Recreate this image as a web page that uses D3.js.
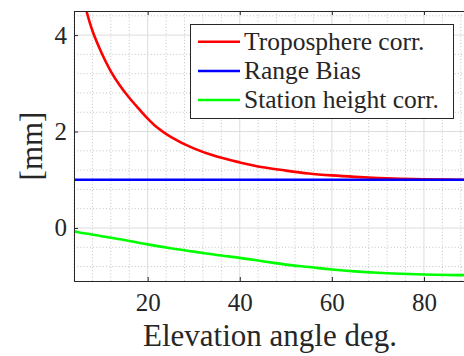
<!DOCTYPE html>
<html>
<head>
<meta charset="utf-8">
<script src="https://cdn.jsdelivr.net/npm/d3@7"></script>
<style>
html,body{margin:0;padding:0;background:#fff;}
</style>
</head>
<body>
<svg id="chart" width="464" height="356"></svg>
<script>
// ---- data ----
const elevationTropo = [6.7, 8, 10, 12, 14, 16, 18, 20, 22, 25, 30, 35, 40, 45, 50, 55, 60, 65, 70, 75, 80, 85, 90];
const troposphereCorr = [4.5, 4.09, 3.63, 3.25, 2.95, 2.70, 2.48, 2.27, 2.09, 1.89, 1.65, 1.48, 1.36, 1.26, 1.19, 1.13, 1.09, 1.06, 1.037, 1.02, 1.009, 1.002, 1.0];
const elevationBias = [4, 90];
const rangeBias = [1.0, 1.0];
const elevationStation = [4, 5, 10, 15, 20, 25, 30, 35, 40, 45, 50, 55, 60, 65, 70, 75, 80, 85, 90];
const stationHeightCorr = [-0.07, -0.09, -0.17, -0.25, -0.34, -0.42, -0.49, -0.56, -0.62, -0.69, -0.76, -0.81, -0.86, -0.90, -0.93, -0.95, -0.965, -0.975, -0.98];
const xTicks = [20, 40, 60, 80];
const yTicks = [0, 2, 4];
const xMinorTicks = d3.range(4, 91, 4);
const yMinorTicks = d3.range(-0.8, 4.6, 0.4).map(v => +v.toFixed(1));
const seriesNames = ["Troposphere corr.", "Range Bias", "Station height corr."];
const seriesColors = ["#ff0000", "#0000ff", "#00ff00"];
const xLabel = "Elevation angle deg.";
const yLabel = "[mm]";

// ---- layout ----
const FONT = "'Liberation Serif', 'Times New Roman', serif";
const svg = d3.select("#chart");
const L = 74, R = 470, T = 11, B = 281;
const x = d3.scaleLinear().domain([4, 90]).range([L, R]);
const y = d3.scaleLinear().domain([-1.1, 4.5]).range([B, T]);
const axisColor = "#262626";

svg.append("defs").append("clipPath").attr("id", "clip")
  .append("rect").attr("x", L).attr("y", T).attr("width", R - L).attr("height", B - T);

const grid = svg.append("g");
grid.selectAll(".vminor").data(xMinorTicks.filter(v => !xTicks.includes(v))).join("line")
  .attr("x1", d => x(d)).attr("x2", d => x(d)).attr("y1", T).attr("y2", B)
  .attr("stroke", "#c4c4c4").attr("stroke-width", 1).attr("stroke-dasharray", "1,2.2");
grid.selectAll(".hminor").data(yMinorTicks.filter(v => !yTicks.includes(v))).join("line")
  .attr("x1", L).attr("x2", R).attr("y1", d => y(d)).attr("y2", d => y(d))
  .attr("stroke", "#c4c4c4").attr("stroke-width", 1).attr("stroke-dasharray", "1,2.2");
grid.selectAll(".vmajor").data(xTicks).join("line")
  .attr("x1", d => x(d)).attr("x2", d => x(d)).attr("y1", T).attr("y2", B)
  .attr("stroke", "#dcdcdc").attr("stroke-width", 1);
grid.selectAll(".hmajor").data(yTicks).join("line")
  .attr("x1", L).attr("x2", R).attr("y1", d => y(d)).attr("y2", d => y(d))
  .attr("stroke", "#dcdcdc").attr("stroke-width", 1);

// ---- series ----
const plot = svg.append("g").attr("clip-path", "url(#clip)");
const series = [
  elevationTropo.map((e, i) => [e, troposphereCorr[i]]),
  elevationBias.map((e, i) => [e, rangeBias[i]]),
  elevationStation.map((e, i) => [e, stationHeightCorr[i]])
];
const line = d3.line().x(d => x(d[0])).y(d => y(d[1])).curve(d3.curveCatmullRom.alpha(0.5));
plot.selectAll("path.s").data(series).join("path")
  .attr("fill", "none").attr("stroke", (d, i) => seriesColors[i])
  .attr("stroke-width", 2.6).attr("d", line);

// ---- axes ----
const tickLen = 4;
const xAxisB = d3.axisBottom(x).tickValues(xTicks).tickSize(-tickLen).tickPadding(12).tickFormat(d3.format("d"));
const gx = svg.append("g").attr("transform", `translate(0,${B})`).call(xAxisB);
const xAxisT = d3.axisTop(x).tickValues(xTicks).tickSize(-tickLen).tickFormat("");
const gxt = svg.append("g").attr("transform", `translate(0,${T})`).call(xAxisT);
const yAxisL = d3.axisLeft(y).tickValues(yTicks).tickSize(-tickLen).tickPadding(7).tickFormat(d3.format("d"));
const gy = svg.append("g").attr("transform", `translate(${L},0)`).call(yAxisL);
[gx, gxt, gy].forEach(g => {
  g.attr("font-family", null).attr("font-size", null);
  g.select(".domain").attr("stroke", axisColor).attr("stroke-width", 1);
  g.selectAll(".tick line").attr("stroke", axisColor);
  g.selectAll(".tick text").style("font-family", FONT).style("font-size", "25px").attr("fill", axisColor);
});
gx.selectAll(".tick text").attr("dy", "0.72em");

// axis labels
svg.append("text").attr("x", (L + R) / 2 - 2).attr("y", 346)
  .attr("text-anchor", "middle").style("font-family", FONT).style("font-size", "31px")
  .attr("fill", axisColor).text(xLabel);
svg.append("text").attr("transform", `translate(42,${(T + B) / 2}) rotate(-90)`)
  .attr("text-anchor", "middle").style("font-family", FONT).style("font-size", "31px")
  .attr("fill", axisColor).text(yLabel);

// ---- legend ----
const lg = svg.append("g");
lg.append("rect").attr("x", 190.5).attr("y", 24.5).attr("width", 263).attr("height", 94)
  .attr("fill", "#fff").attr("stroke", axisColor).attr("stroke-width", 1);
const rowY = [41.7, 71, 100];
seriesNames.forEach((name, i) => {
  lg.append("line").attr("x1", 198).attr("x2", 240).attr("y1", rowY[i]).attr("y2", rowY[i])
    .attr("stroke", seriesColors[i]).attr("stroke-width", 2.6);
  lg.append("text").attr("x", 244).attr("y", rowY[i] + 8)
    .style("font-family", FONT).style("font-size", "25.5px").attr("fill", axisColor).text(name);
});
</script>
</body>
</html>
